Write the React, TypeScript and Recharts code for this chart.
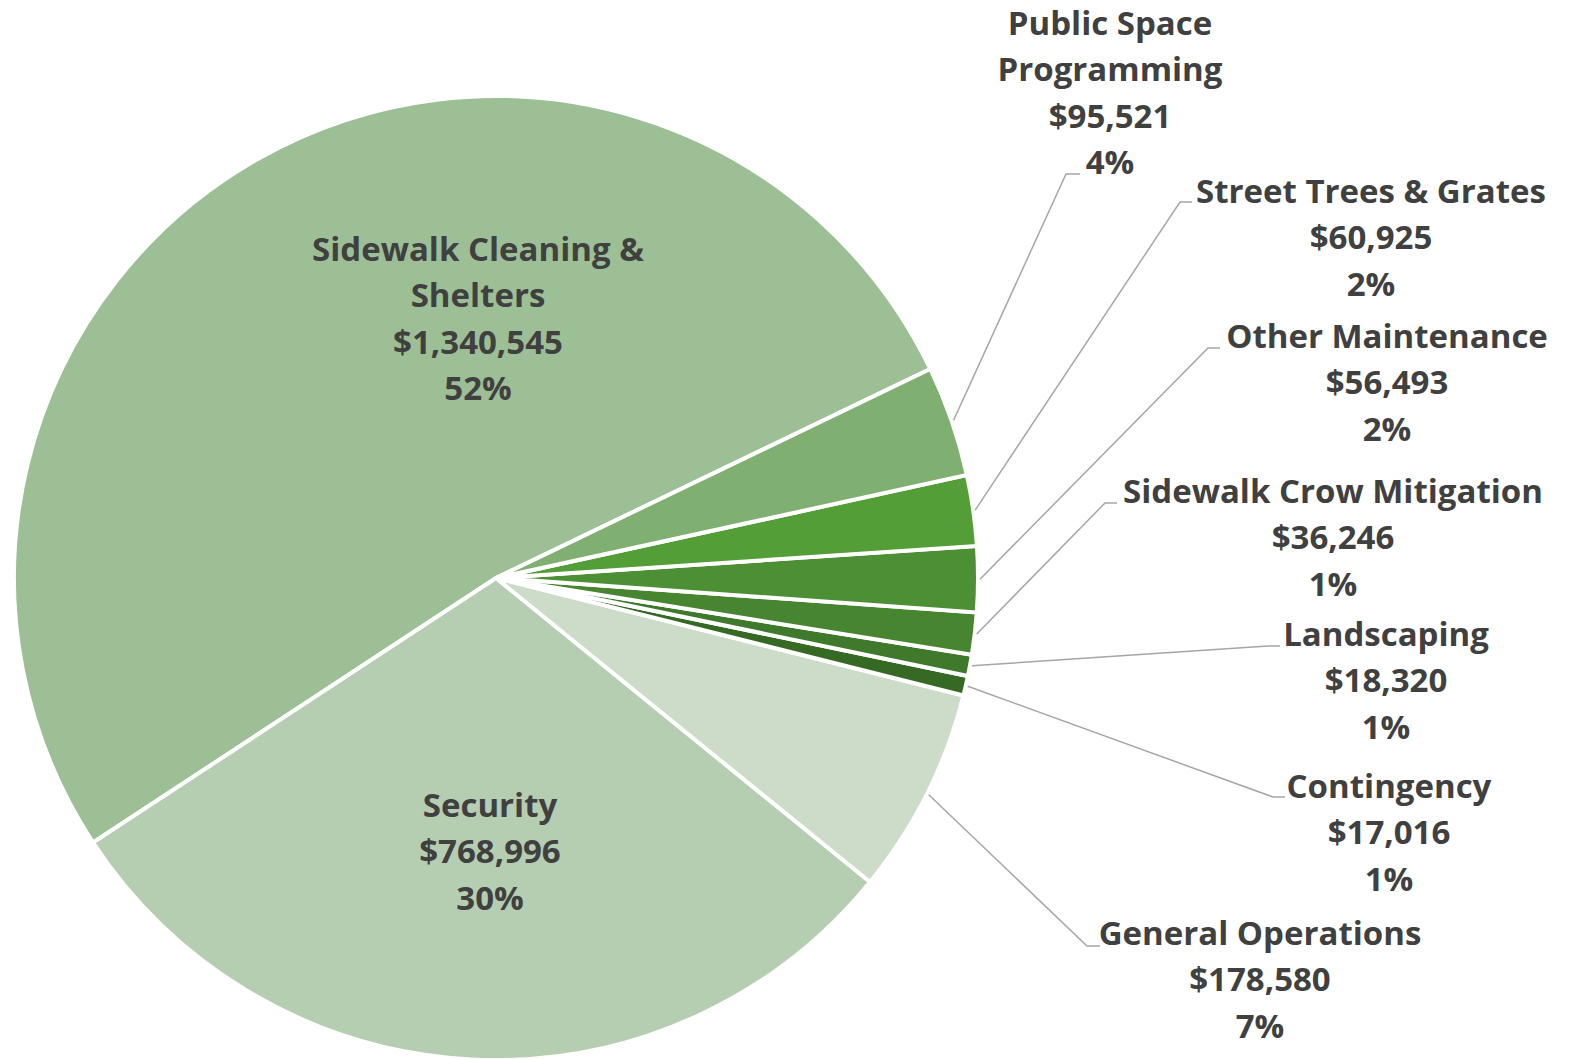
import { PieChart, Pie, Cell } from "recharts"

// budget categories, in slice order (counter-clockwise from the top-right edge)
const categories = [
  "Sidewalk Cleaning &\nShelters",
  "Security",
  "General Operations",
  "Contingency",
  "Landscaping",
  "Sidewalk Crow Mitigation",
  "Other Maintenance",
  "Street Trees & Grates",
  "Public Space\nProgramming",
]
const amounts = [1340545, 768996, 178580, 17016, 18320, 36246, 56493, 60925, 95521]
const sliceColors = ["#9dbf95", "#b5cdb0", "#cddcc9", "#366a24", "#3f7a2c", "#478530", "#4c8f34", "#539e37", "#7fb072"]

// label placement: text centre, first line y, and optional leader elbow [bendX, bendY, endX]
const labelLayout: { x: number; y: number; elbow?: [number, number, number] }[] = [
  { x: 478, y: 248 },
  { x: 490, y: 804 },
  { x: 1260, y: 932, elbow: [1087, 946, 1100] },
  { x: 1389, y: 785, elbow: [1273, 797, 1285] },
  { x: 1386, y: 633, elbow: [1268, 646, 1280] },
  { x: 1333, y: 490, elbow: [1105, 503, 1117] },
  { x: 1387, y: 335, elbow: [1208, 348, 1220] },
  { x: 1371, y: 190, elbow: [1180, 202, 1192] },
  { x: 1110, y: 22, elbow: [1066, 174, 1080] },
]

const data = categories.map((name, i) => ({ name, value: amounts[i] }))
const total = amounts.reduce((a, b) => a + b, 0)

const RADIAN = Math.PI / 180
const LINE_H = 46.5

function SliceLabel(props: any) {
  const { cx, cy, midAngle, outerRadius, index } = props
  const layout = labelLayout[index]
  const entry = data[index]
  const lines = [
    ...entry.name.split("\n"),
    "$" + entry.value.toLocaleString("en-US"),
    Math.round((entry.value / total) * 100) + "%",
  ]
  let leader = null
  if (layout.elbow) {
    const r = outerRadius + 2
    const sx = cx + r * Math.cos(-midAngle * RADIAN)
    const sy = cy + r * Math.sin(-midAngle * RADIAN)
    const [bx, by, ex] = layout.elbow
    leader = (
      <polyline
        points={`${sx},${sy} ${bx},${by} ${ex},${by}`}
        fill="none"
        stroke="#a6a6a6"
        strokeWidth={1.5}
      />
    )
  }
  return (
    <g>
      {leader}
      {lines.map((t, i) => (
        <text
          key={i}
          x={layout.x}
          y={layout.y + i * LINE_H}
          textAnchor="middle"
          dominantBaseline="central"
          fill="#404040"
          fontFamily="'Open Sans', sans-serif"
          fontWeight={700}
          fontSize={33}
        >
          {t}
        </text>
      ))}
    </g>
  )
}

export default function App() {
  return (
    <div style={{ position: "absolute", left: 0, top: 0, background: "#fff" }}>
      <PieChart width={1574} height={1059} margin={{ top: 0, right: 0, bottom: 0, left: 0 }}>
        <Pie
          data={data}
          dataKey="value"
          cx={496}
          cy={578}
          outerRadius={482}
          startAngle={25.7}
          endAngle={385.7}
          label={SliceLabel}
          labelLine={false}
          isAnimationActive={false}
        >
          {data.map((d, i) => (
            <Cell key={d.name} fill={sliceColors[i]} stroke="#ffffff" strokeWidth={4} />
          ))}
        </Pie>
      </PieChart>
    </div>
  )
}
